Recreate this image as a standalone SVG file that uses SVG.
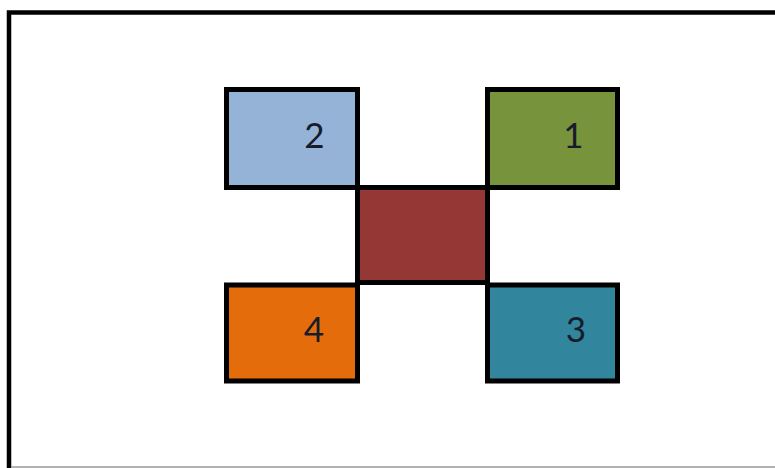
<svg xmlns="http://www.w3.org/2000/svg" width="775" height="468" viewBox="0 0 775 468">
<style>
.box{stroke:#000;stroke-width:5}
.lbl{font-family:Lato,"Liberation Sans",sans-serif;font-size:35px;fill:#161c2c;text-anchor:middle}
</style>
<rect width="775" height="468" fill="#fff"/>
<path d="M9,468 V12.5 H775" fill="none" stroke="#000" stroke-width="4.5"/>
<path d="M11,467 H775" fill="none" stroke="#999" stroke-width="1.5"/>
<g id="center"><rect class="box" x="357.5" y="187.5" width="130" height="95" fill="#953735"/></g>
<g id="node2"><rect class="box" x="226.5" y="89.5" width="131" height="98" fill="#95B3D7"/><text class="lbl" x="314.5" y="148">2</text></g>
<g id="node1"><rect class="box" x="487.5" y="89.5" width="130" height="98" fill="#77933C"/><text class="lbl" x="573.5" y="148">1</text></g>
<g id="node4"><rect class="box" x="226.5" y="285" width="131" height="96" fill="#E46C0A"/><text class="lbl" x="314" y="342">4</text></g>
<g id="node3"><rect class="box" x="487.5" y="285" width="130" height="96" fill="#31859C"/><text class="lbl" x="576" y="342">3</text></g>
<g id="connectors"></g>
</svg>
